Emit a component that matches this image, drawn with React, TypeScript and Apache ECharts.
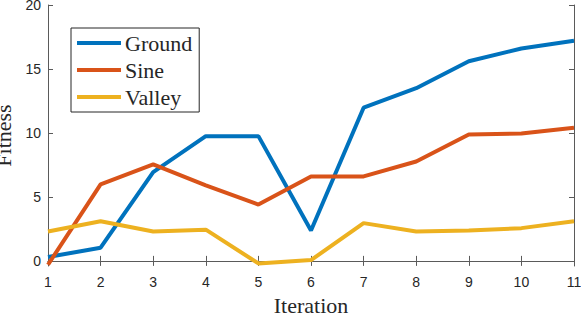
import React, { useEffect, useRef } from "react";
import * as echarts from "echarts";

const iterations = [1, 2, 3, 4, 5, 6, 7, 8, 9, 10, 11];
const ground = [0.3, 1.03, 6.94, 9.75, 9.75, 2.38, 11.97, 13.5, 15.6, 16.6, 17.2];
const sine = [-0.3, 5.98, 7.54, 5.9, 4.4, 6.6, 6.6, 7.77, 9.88, 9.96, 10.4];
const valley = [2.3, 3.1, 2.3, 2.44, -0.2, 0.06, 2.95, 2.3, 2.38, 2.56, 3.09];
const yTicks = [0, 5, 10, 15, 20];
const xTicks = [1, 2, 3, 4, 5, 6, 7, 8, 9, 10, 11];

const seriesDefs = [
  { name: "Ground", data: ground, color: "#0072BD" },
  { name: "Sine", data: sine, color: "#D95319" },
  { name: "Valley", data: valley, color: "#EDB120" },
];

export default function App() {
  const ref = useRef<HTMLDivElement>(null);
  useEffect(() => {
    if (!ref.current) return;
    const chart = echarts.init(ref.current, null, { renderer: "svg" });
    const axisLine = { show: true, lineStyle: { color: "#5a5a5a", width: 1 } };
    const tick = { show: true, inside: true, length: 5, lineStyle: { color: "#5a5a5a", width: 1 } };
    const labelFont = { fontFamily: "Liberation Sans, Arial, sans-serif", fontSize: 14, color: "#262626" };
    const nameFont = { fontFamily: "Liberation Serif, Times New Roman, serif", fontSize: 22, color: "#262626" };
    chart.setOption({
      animation: false,
      backgroundColor: "#ffffff",
      grid: { left: 48, right: 7, top: 5, bottom: 51, containLabel: false, outerBoundsMode: "none" },
      legend: {
        left: 71,
        top: 28,
        orient: "vertical",
        itemWidth: 44,
        itemHeight: 4,
        itemGap: 5,
        icon: "rect",
        padding: [4, 7, 4, 6],
        borderColor: "#262626",
        borderWidth: 1,
        backgroundColor: "#ffffff",
        textStyle: { ...nameFont, padding: [0, 0, 0, -1] },
        data: seriesDefs.map((s) => s.name),
      },
      xAxis: [
        {
          type: "value",
          min: 1,
          max: 11,
          interval: 1,
          position: "bottom",
          axisLine,
          axisTick: { ...tick, customValues: xTicks },
          axisLabel: { ...labelFont, margin: 9, customValues: xTicks },
          splitLine: { show: false },
          name: "Iteration",
          nameLocation: "middle",
          nameGap: 28,
          nameTextStyle: nameFont,
        },
        {
          type: "value",
          min: 1,
          max: 11,
          interval: 1,
          position: "top",
          axisLine,
          axisTick: { ...tick, customValues: xTicks },
          axisLabel: { show: false },
          splitLine: { show: false },
        },
      ],
      yAxis: [
        {
          type: "value",
          min: -0.4,
          max: 20,
          position: "left",
          axisLine,
          axisTick: { ...tick, customValues: yTicks },
          axisLabel: { ...labelFont, margin: 7, customValues: yTicks },
          splitLine: { show: false },
          name: "Fitness",
          nameLocation: "middle",
          nameGap: 24,
          nameTextStyle: nameFont,
        },
        {
          type: "value",
          min: -0.4,
          max: 20,
          position: "right",
          axisLine,
          axisTick: { ...tick, customValues: yTicks },
          axisLabel: { show: false },
          splitLine: { show: false },
        },
      ],
      series: seriesDefs.map((s) => ({
        name: s.name,
        type: "line",
        xAxisIndex: 0,
        yAxisIndex: 0,
        data: s.data.map((v, i) => [iterations[i], v]),
        showSymbol: false,
        symbol: "none",
        color: s.color,
        lineStyle: { color: s.color, width: 4 },
        itemStyle: { color: s.color },
      })),
    });
    return () => chart.dispose();
  }, []);
  return <div ref={ref} style={{ width: 581, height: 317, position: "absolute", left: 0, top: 0 }} />;
}
